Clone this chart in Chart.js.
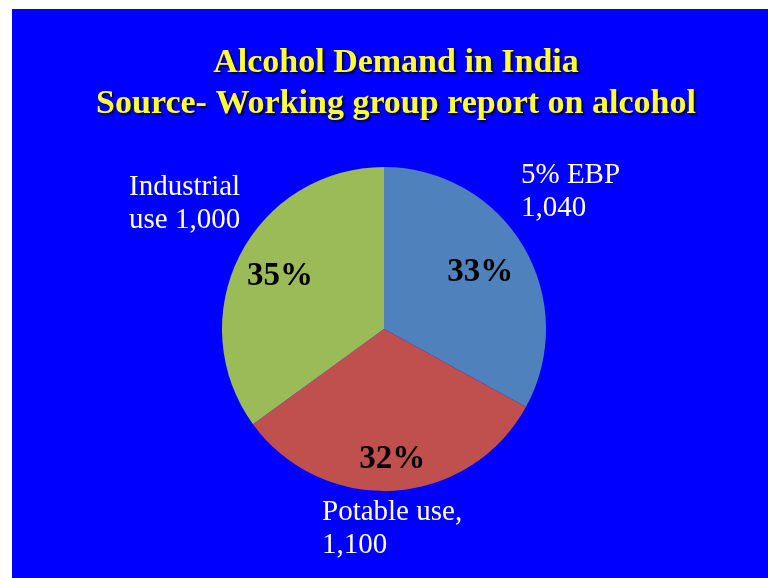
<!DOCTYPE html>
<html>
<head>
<meta charset="utf-8">
<script src="https://cdn.jsdelivr.net/npm/chart.js@4"></script>
<style>
  html, body { margin: 0; padding: 0; background: #ffffff; }
  .slide { position: absolute; left: 12px; top: 9px; width: 756px; height: 569px; background: #0000ff; }
</style>
</head>
<body>
<div class="slide"><canvas id="demandChart" width="756" height="569"></canvas></div>
<script>
// Data
const categories = ['5% EBP', 'Potable use,', 'Industrial use'];
const amounts = ['1,040', '1,100', '1,000'];
const percents = [33, 32, 35];
const sliceColors = ['#4f81bd', '#c0504d', '#9bbb59'];
const titleLines = ['Alcohol Demand in India', 'Source- Working group report on alcohol'];

const serif = "'Liberation Serif', 'Times New Roman', serif";

// text lines beside each slice (index matches categories)
const outsideText = [
  ['5% EBP', amounts[0]],
  ['Potable use,', amounts[1]],
  ['Industrial', 'use ' + amounts[2]]
];
// left x / first baseline, relative to the pie centre
const outsideOffset = [[137, -146], [-62, 191], [-255, -134]];
const insideFactor = [0.69, 0.81, 0.72];

const slideLabels = {
  id: 'slideLabels',
  afterDraw(chart) {
    const c = chart.ctx;
    c.save();

    // title with a dark drop shadow
    c.font = 'bold 34px ' + serif;
    c.textAlign = 'center';
    c.textBaseline = 'alphabetic';
    c.shadowColor = 'rgba(0,0,0,0.75)';
    c.shadowOffsetX = 2;
    c.shadowOffsetY = 2;
    c.shadowBlur = 2;
    c.fillStyle = '#ffff33';
    c.fillText(titleLines[0], 384, 63);
    c.fillText(titleLines[1], 384, 104);
    c.shadowColor = 'transparent';

    const arcs = chart.getDatasetMeta(0).data;
    arcs.forEach((arc, i) => {
      const p = arc.getProps(['x', 'y', 'startAngle', 'endAngle', 'outerRadius'], true);
      const mid = (p.startAngle + p.endAngle) / 2;
      const r = p.outerRadius * insideFactor[i];

      c.font = 'bold 33px ' + serif;
      c.textAlign = 'center';
      c.textBaseline = 'middle';
      c.fillStyle = '#000000';
      c.fillText(percents[i] + '%', p.x + Math.cos(mid) * r, p.y + Math.sin(mid) * r);

      c.font = '29px ' + serif;
      c.textAlign = 'left';
      c.textBaseline = 'alphabetic';
      c.fillStyle = '#ffffff';
      const o = outsideOffset[i];
      outsideText[i].forEach((line, k) => {
        c.fillText(line, p.x + o[0], p.y + o[1] + k * 33);
      });
    });
    c.restore();
  }
};

new Chart(document.getElementById('demandChart'), {
  type: 'pie',
  data: {
    labels: categories,
    datasets: [{
      data: percents,
      backgroundColor: sliceColors,
      borderWidth: 0
    }]
  },
  options: {
    responsive: false,
    animation: false,
    layout: { padding: { left: 210, right: 222, top: 158, bottom: 87 } },
    plugins: {
      legend: { display: false },
      tooltip: { enabled: false },
      title: { display: false }
    }
  },
  plugins: [slideLabels]
});
</script>
</body>
</html>
